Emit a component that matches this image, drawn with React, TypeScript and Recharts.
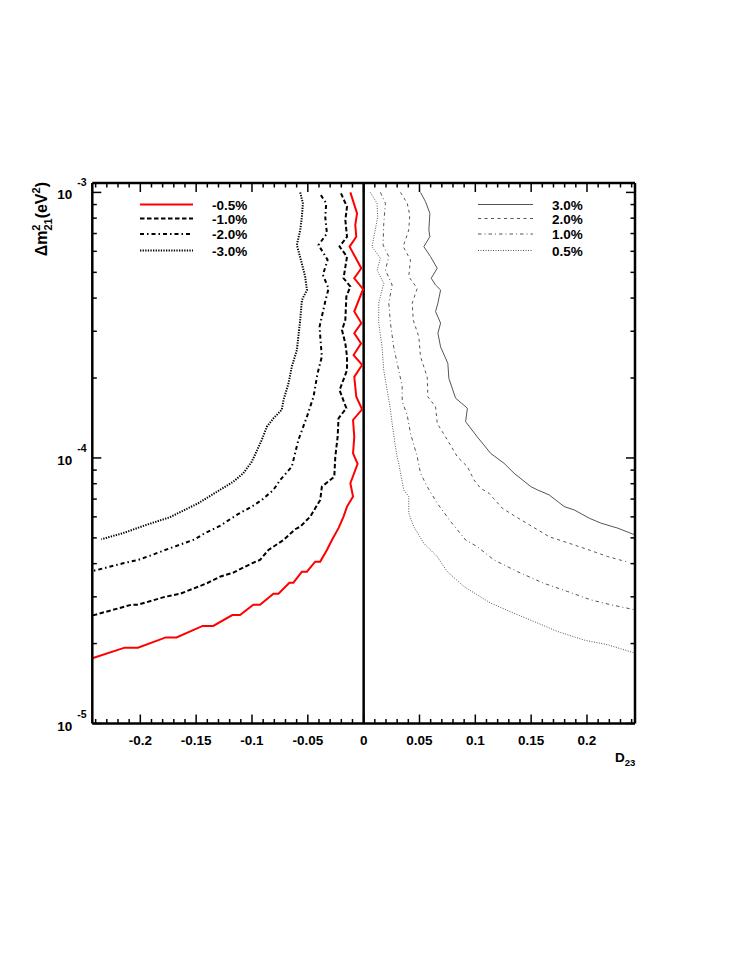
import { LineChart, Line, XAxis, YAxis, ReferenceLine, Legend } from "recharts";

const FONT = '"Liberation Sans", Arial, Helvetica, sans-serif';

// contour curves, [D23, dm21^2 (eV^2)] from top to bottom
const neg05 = [
  [-0.0119, 1.0e-3], [-0.0059, 8.34e-4], [-0.0075, 7.54e-4], [-0.0066, 6.81e-4], [-0.0126, 6.25e-4],
  [-0.0021, 5.18e-4], [-0.0084, 4.75e-4], [-0.0005, 4.32e-4], [-0.0084, 3.56e-4], [-0.0021, 3.22e-4],
  [-0.0084, 2.95e-4], [-0.0023, 2.7e-4], [-0.009, 2.44e-4], [-0.0014, 2.24e-4], [-0.0084, 2.02e-4],
  [-0.0066, 1.7e-4], [-0.0014, 1.525e-4], [-0.0095, 1.39e-4], [-0.0084, 1.2e-4], [-0.0095, 1.04e-4],
  [-0.0054, 9.5e-5], [-0.0119, 8.03e-5], [-0.0095, 7.15e-5], [-0.0149, 6.56e-5], [-0.018, 6.01e-5],
  [-0.0225, 5.44e-5], [-0.0284, 4.91e-5], [-0.0329, 4.5e-5], [-0.0389, 4.07e-5], [-0.0434, 4.07e-5],
  [-0.0508, 3.73e-5], [-0.0553, 3.73e-5], [-0.0629, 3.39e-5], [-0.0665, 3.39e-5], [-0.0763, 3.08e-5],
  [-0.0808, 3.08e-5], [-0.0928, 2.8e-5], [-0.0988, 2.8e-5], [-0.1107, 2.56e-5], [-0.1176, 2.56e-5],
  [-0.1347, 2.33e-5], [-0.1442, 2.33e-5], [-0.1676, 2.11e-5], [-0.1772, 2.11e-5], [-0.2021, 1.93e-5],
  [-0.214, 1.93e-5], [-0.243, 1.76e-5],
];

const neg10 = [
  [-0.0203, 9.92e-4], [-0.0149, 8.83e-4], [-0.0164, 7.87e-4], [-0.0149, 6.81e-4], [-0.0216, 6.25e-4],
  [-0.0149, 5.73e-4], [-0.018, 4.75e-4], [-0.0119, 4.42e-4], [-0.0155, 4.05e-4], [-0.0164, 3.31e-4],
  [-0.0194, 3.03e-4], [-0.0164, 2.7e-4], [-0.0149, 2.41e-4], [-0.0149, 2.14e-4], [-0.0216, 1.8e-4],
  [-0.0155, 1.54e-4], [-0.0225, 1.41e-4], [-0.0233, 1.2e-4], [-0.0254, 1.01e-4], [-0.0263, 8.5e-5],
  [-0.0374, 7.8e-5], [-0.0389, 6.95e-5], [-0.0479, 6.01e-5], [-0.0568, 5.51e-5], [-0.0613, 5.39e-5],
  [-0.0718, 4.91e-5], [-0.0853, 4.5e-5], [-0.0928, 4.13e-5], [-0.1002, 4.01e-5], [-0.1167, 3.7e-5],
  [-0.1287, 3.57e-5], [-0.1406, 3.37e-5], [-0.1644, 3.08e-5], [-0.1779, 3.0e-5], [-0.2021, 2.8e-5],
  [-0.208, 2.8e-5], [-0.243, 2.55e-5],
];

const neg20 = [
  [-0.0383, 9.77e-4], [-0.0335, 9.1e-4], [-0.0344, 8.1e-4], [-0.0329, 7.01e-4], [-0.0404, 6.34e-4],
  [-0.0323, 5.57e-4], [-0.0365, 4.89e-4], [-0.0314, 4.35e-4], [-0.0344, 3.88e-4], [-0.0395, 3.12e-4],
  [-0.0383, 2.66e-4], [-0.0374, 2.41e-4], [-0.0413, 2.08e-4], [-0.0449, 1.7e-4], [-0.0508, 1.43e-4],
  [-0.0584, 1.17e-4], [-0.0629, 9.83e-5], [-0.0643, 9.27e-5], [-0.0748, 8.26e-5], [-0.0808, 7.58e-5],
  [-0.0912, 6.95e-5], [-0.1002, 6.56e-5], [-0.1137, 6.1e-5], [-0.1287, 5.55e-5], [-0.1422, 5.21e-5],
  [-0.1511, 4.94e-5], [-0.1736, 4.57e-5], [-0.1916, 4.28e-5], [-0.2021, 4.13e-5], [-0.2155, 4.01e-5],
  [-0.2362, 3.81e-5], [-0.243, 3.75e-5],
];

const neg30 = [
  [-0.0568, 1.0e-3], [-0.0544, 9.1e-4], [-0.0553, 8.1e-4], [-0.0568, 7.22e-4], [-0.0598, 6.34e-4],
  [-0.0562, 5.57e-4], [-0.0524, 4.82e-4], [-0.0508, 4.29e-4], [-0.0553, 3.93e-4], [-0.0568, 3.31e-4],
  [-0.0598, 2.55e-4], [-0.0643, 2.21e-4], [-0.0673, 1.91e-4], [-0.0718, 1.65e-4], [-0.0733, 1.52e-4],
  [-0.0808, 1.41e-4], [-0.0867, 1.31e-4], [-0.0912, 1.17e-4], [-0.1002, 9.68e-5], [-0.1078, 8.76e-5],
  [-0.1167, 8.14e-5], [-0.1287, 7.58e-5], [-0.1482, 6.75e-5], [-0.1736, 5.98e-5], [-0.1945, 5.6e-5],
  [-0.2155, 5.21e-5], [-0.2349, 4.94e-5],
];

const pos30 = [
  [0.0509, 1.0e-3], [0.0554, 9.23e-4], [0.0593, 8.34e-4], [0.0584, 7.22e-4], [0.0593, 6.81e-4],
  [0.0539, 6.25e-4], [0.0599, 5.73e-4], [0.0659, 5.18e-4], [0.0605, 4.75e-4], [0.0644, 4.48e-4],
  [0.0689, 4.29e-4], [0.0665, 3.83e-4], [0.0644, 3.56e-4], [0.0689, 3.22e-4], [0.0665, 2.95e-4],
  [0.0689, 2.62e-4], [0.0754, 2.27e-4], [0.0763, 1.995e-4], [0.0823, 1.68e-4], [0.0929, 1.54e-4],
  [0.0913, 1.37e-4], [0.1018, 1.2e-4], [0.1138, 1.04e-4], [0.1257, 9.55e-5], [0.1347, 8.76e-5],
  [0.1497, 7.8e-5], [0.1557, 7.58e-5], [0.1661, 7.26e-5], [0.1796, 6.56e-5], [0.1886, 6.37e-5],
  [0.2021, 5.93e-5], [0.2126, 5.68e-5], [0.2276, 5.44e-5], [0.243, 5.13e-5],
];

const pos20 = [
  [0.033, 1.0e-3], [0.039, 9.1e-4], [0.0413, 8.22e-4], [0.0404, 7.22e-4], [0.0354, 6.25e-4],
  [0.0419, 5.57e-4], [0.0404, 4.82e-4], [0.048, 4.35e-4], [0.0435, 3.83e-4], [0.0444, 3.31e-4],
  [0.0494, 2.86e-4], [0.0509, 2.41e-4], [0.0569, 2.02e-4], [0.0575, 1.7e-4], [0.0644, 1.56e-4],
  [0.0659, 1.35e-4], [0.0749, 1.17e-4], [0.0839, 1.01e-4], [0.0929, 9.27e-5], [0.0988, 8.26e-5],
  [0.1048, 7.69e-5], [0.1123, 7.36e-5], [0.1243, 6.46e-5], [0.1362, 6.01e-5], [0.1512, 5.51e-5],
  [0.1661, 5.05e-5], [0.1841, 4.77e-5], [0.2021, 4.5e-5], [0.2186, 4.25e-5], [0.235, 4.07e-5],
];

const pos10 = [
  [0.015, 1.0e-3], [0.0195, 9.1e-4], [0.018, 7.65e-4], [0.0174, 6.34e-4], [0.0225, 5.73e-4],
  [0.0195, 5.1e-4], [0.0255, 4.48e-4], [0.0225, 3.83e-4], [0.024, 3.22e-4], [0.0269, 2.62e-4],
  [0.0314, 2.14e-4], [0.0345, 1.86e-4], [0.0345, 1.63e-4], [0.039, 1.45e-4], [0.0419, 1.24e-4],
  [0.048, 1.01e-4], [0.0509, 8.76e-5], [0.0569, 7.8e-5], [0.0659, 6.75e-5], [0.0779, 5.76e-5],
  [0.0913, 4.91e-5], [0.1018, 4.63e-5], [0.1167, 4.13e-5], [0.1378, 3.73e-5], [0.1616, 3.37e-5],
  [0.1827, 3.14e-5], [0.2036, 2.92e-5], [0.2215, 2.8e-5], [0.243, 2.68e-5],
];

const pos05 = [
  [0.006, 1.0e-3], [0.012, 9.1e-4], [0.0126, 8.1e-4], [0.0075, 6.25e-4], [0.015, 5.65e-4],
  [0.012, 5.1e-4], [0.018, 4.55e-4], [0.0135, 3.83e-4], [0.0135, 3.22e-4], [0.0165, 2.62e-4],
  [0.018, 2.14e-4], [0.024, 1.52e-4], [0.0255, 1.35e-4], [0.0285, 1.1e-4], [0.03, 1.01e-4],
  [0.0314, 9.55e-5], [0.0359, 7.58e-5], [0.0404, 7.15e-5], [0.0404, 6.19e-5], [0.0449, 5.51e-5],
  [0.0539, 4.77e-5], [0.0659, 4.25e-5], [0.0749, 3.73e-5], [0.0898, 3.28e-5], [0.1018, 3.05e-5],
  [0.1138, 2.84e-5], [0.1347, 2.6e-5], [0.1527, 2.42e-5], [0.1737, 2.22e-5], [0.1976, 2.06e-5],
  [0.2186, 1.98e-5], [0.243, 1.84e-5],
];

const negLabels = ["-0.5%", "-1.0%", "-2.0%", "-3.0%"];
const posLabels = ["3.0%", "2.0%", "1.0%", "0.5%"];

const xMajorTicks = [-0.2, -0.15, -0.1, -0.05, 0, 0.05, 0.1, 0.15, 0.2];
const xTickLabels = ["-0.2", "-0.15", "-0.1", "-0.05", "0", "0.05", "0.1", "0.15", "0.2"];
const xMinorTicks = Array.from({ length: 49 }, (_, i) => Math.round((-0.24 + i * 0.01) * 100) / 100);

const yDecades = [1e-5, 1e-4, 1e-3];
const yDecadeLabels = ["-5", "-4", "-3"];
const yTicks = [
  1e-5, 2e-5, 3e-5, 4e-5, 5e-5, 6e-5, 7e-5, 8e-5, 9e-5,
  1e-4, 2e-4, 3e-4, 4e-4, 5e-4, 6e-4, 7e-4, 8e-4, 9e-4,
  1e-3,
];

const negSeries = [neg05, neg10, neg20, neg30];
const posSeries = [pos30, pos20, pos10, pos05];

const negStyles = [
  { stroke: "#ff0000", width: 2, dash: undefined },
  { stroke: "#000", width: 2, dash: "4.5 2.5" },
  { stroke: "#000", width: 2, dash: "4 3 1.5 3" },
  { stroke: "#000", width: 2, dash: "1.3 1.3" },
];
const posStyles = [
  { stroke: "#555", width: 1, dash: undefined },
  { stroke: "#555", width: 1, dash: "3 3.5" },
  { stroke: "#555", width: 1, dash: "3.5 3 1 3" },
  { stroke: "#555", width: 1, dash: "1 1.5" },
];

const legendRows = [204.5, 218.5, 234, 250.5];

const toPts = (arr: number[][]) => arr.map(([x, y]) => ({ x, y }));

const majorIndex = (v: number) => xMajorTicks.findIndex((t) => Math.abs(t - v) < 1e-9);
const isDecade = (v: number) => yDecades.findIndex((t) => Math.abs(t - v) / t < 1e-6);

const BottomTick = (props: any) => {
  const { x, y, payload } = props;
  const idx = majorIndex(payload.value);
  return (
    <g>
      <line x1={x} x2={x} y1={y} y2={y - (idx >= 0 ? 9 : 4.5)} stroke="#000" strokeWidth={1.5} />
      {idx >= 0 && (
        <text x={x} y={y + 21} textAnchor="middle" fontFamily={FONT} fontWeight="bold" fontSize={13.5} fill="#000">
          {xTickLabels[idx]}
        </text>
      )}
    </g>
  );
};

const TopTick = (props: any) => {
  const { x, y, payload } = props;
  const idx = majorIndex(payload.value);
  return <line x1={x} x2={x} y1={y} y2={y + (idx >= 0 ? 9 : 4.5)} stroke="#000" strokeWidth={1.5} />;
};

const LeftTick = (props: any) => {
  const { x, y, payload } = props;
  const d = isDecade(payload.value);
  return (
    <g>
      <line x1={x} x2={x + (d >= 0 ? 9 : 4.5)} y1={y} y2={y} stroke="#000" strokeWidth={1.5} />
      {d >= 0 && (
        <text fontFamily={FONT} fontWeight="bold" fill="#000">
          <tspan x={x - 20} y={y + 7} fontSize={13.5} textAnchor="end">10</tspan>
          <tspan x={x - 15} y={y - 6} fontSize={10.5}>{yDecadeLabels[d]}</tspan>
        </text>
      )}
    </g>
  );
};

const RightTick = (props: any) => {
  const { x, y, payload } = props;
  const d = isDecade(payload.value);
  return <line x1={x} x2={x - (d >= 0 ? 9 : 4.5)} y1={y} y2={y} stroke="#000" strokeWidth={1.5} />;
};

const renderYTitle = () => (
  <text transform="translate(47,182) rotate(-90)" textAnchor="end" fontFamily={FONT} fontWeight="bold" fontSize={16} fill="#000">
    <tspan>Δm</tspan>
    <tspan fontSize={11} dy={-7}>2</tspan>
    <tspan fontSize={11} dx={-6.1} dy={11.5}>21</tspan>
    <tspan dy={-4.5}>(eV</tspan>
    <tspan fontSize={11} dy={-7}>2</tspan>
    <tspan dy={7}>)</tspan>
  </text>
);

const renderXTitle = () => (
  <text x={615} y={762} fontFamily={FONT} fontWeight="bold" fontSize={13.5} fill="#000">
    D<tspan fontSize={9.5} dy={3.5}>23</tspan>
  </text>
);

const renderLegend = () => (
  <svg width={747} height={967} style={{ position: "absolute", left: 0, top: 0 }}>
    {negLabels.map((label, i) => (
      <g key={label}>
        <line x1={140} x2={193} y1={legendRows[i]} y2={legendRows[i]} stroke={negStyles[i].stroke}
          strokeWidth={negStyles[i].width} strokeDasharray={negStyles[i].dash} />
        <text x={212} y={legendRows[i] + 5} fontFamily={FONT} fontWeight="bold" fontSize={13.5} fill="#000">{label}</text>
      </g>
    ))}
    {posLabels.map((label, i) => (
      <g key={label}>
        <line x1={478} x2={533} y1={legendRows[i]} y2={legendRows[i]} stroke={posStyles[i].stroke}
          strokeWidth={posStyles[i].width} strokeDasharray={posStyles[i].dash} />
        <text x={552} y={legendRows[i] + 5} fontFamily={FONT} fontWeight="bold" fontSize={13.5} fill="#000">{label}</text>
      </g>
    ))}
  </svg>
);

export default function App() {
  const frame = { stroke: "#000", strokeWidth: 2.5 };
  return (
    <div style={{ position: "absolute", left: 0, top: 0, width: 747, height: 967, background: "#fff" }}>
      <LineChart width={747} height={967} margin={{ top: 173, right: 102, bottom: 203.5, left: 12.3 }}>
        <XAxis dataKey="x" type="number" domain={[-0.243, 0.243]} allowDataOverflow ticks={xMinorTicks}
          interval={0} tickSize={0} tickMargin={0} tickLine={false} axisLine={frame} height={40}
          tick={(p: any) => <BottomTick {...p} />} label={renderXTitle} />
        <XAxis xAxisId="top" orientation="top" dataKey="x" type="number" domain={[-0.243, 0.243]} allowDataOverflow
          ticks={xMinorTicks} interval={0} tickSize={0} tickMargin={0} tickLine={false} axisLine={frame} height={10}
          tick={(p: any) => <TopTick {...p} />} />
        <YAxis type="number" scale="log" domain={[1e-5, 1.085e-3]} allowDataOverflow ticks={yTicks} interval={0}
          tickSize={0} tickMargin={0} tickLine={false} axisLine={frame} width={80}
          tick={(p: any) => <LeftTick {...p} />} label={renderYTitle} />
        <YAxis yAxisId="right" orientation="right" type="number" scale="log" domain={[1e-5, 1.085e-3]} allowDataOverflow
          ticks={yTicks} interval={0} tickSize={0} tickMargin={0} tickLine={false} axisLine={frame} width={10}
          tick={(p: any) => <RightTick {...p} />} />
        <ReferenceLine x={0} stroke="#000" strokeWidth={2.5} />
        {negSeries.map((s, i) => (
          <Line key={negLabels[i]} data={toPts(s)} dataKey="y" type="linear" dot={false} isAnimationActive={false}
            stroke={negStyles[i].stroke} strokeWidth={negStyles[i].width} strokeDasharray={negStyles[i].dash} />
        ))}
        {posSeries.map((s, i) => (
          <Line key={posLabels[i]} data={toPts(s)} dataKey="y" type="linear" dot={false} isAnimationActive={false}
            stroke={posStyles[i].stroke} strokeWidth={posStyles[i].width} strokeDasharray={posStyles[i].dash} />
        ))}
        <Legend layout="horizontal" verticalAlign="middle" align="center" content={renderLegend}
          wrapperStyle={{ left: 0, top: 0, width: 747, height: 967, pointerEvents: "none" }} />
      </LineChart>
    </div>
  );
}
